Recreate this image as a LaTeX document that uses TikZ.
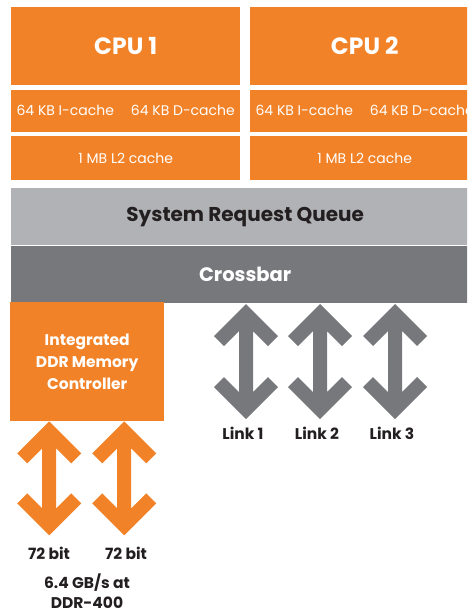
\documentclass[tikz,border=0pt]{standalone}
\usepackage{fontspec}
\setmainfont{Poppins}
\usetikzlibrary{positioning}

\definecolor{coreorange}{HTML}{F28227}
\definecolor{queuegray}{HTML}{B1B2B5}
\definecolor{bargray}{HTML}{77787B}
\definecolor{inkdark}{HTML}{231F20}

% two-headed block arrow: #1 colour, #2 top tip, #3 length
\newcommand{\duplexarrow}[3]{%
  \fill[#1] (#2) -- ++(32,32) -- ++(-10,10) -- ++(-15,-15) -- ++(0,#3-54)
    -- ++(15,-15) -- ++(10,10) -- ++(-32,32) -- ++(-32,-32) -- ++(10,-10)
    -- ++(15,15) -- ++(0,54-#3) -- ++(-15,15) -- ++(-10,-10) -- cycle;}

\begin{document}
\begin{tikzpicture}[x=1pt, y=-1pt,
    block/.style={fill=coreorange, text=white, inner sep=0pt, anchor=north west,
      minimum width=229pt},
    cpubox/.style={block, minimum height=78pt, font=\fontsize{23.5}{28}\selectfont\bfseries},
    cachebox/.style={block, minimum height=42pt, font=\fontsize{14}{16}\selectfont},
    l2box/.style={block, minimum height=44pt, font=\fontsize{14}{16}\selectfont},
    bar/.style={inner sep=0pt, anchor=north west, minimum width=468pt,
      minimum height=57pt, font=\fontsize{20}{24}\selectfont\bfseries},
    tag/.style={text=inkdark, inner sep=0pt, align=center,
      font=\fontsize{15.5}{20}\selectfont\bfseries}]
  \useasboundingbox (0,0) rectangle (467,613);
  \clip (0,0) rectangle (467,613);

  % CPU cores with their caches
  \node[cpubox] (cpu1) at (11,7) {CPU 1};
  \node[cpubox] (cpu2) at (250,7) {CPU 2};
  \node[cachebox, below=4pt of cpu1.south west, anchor=north west] (l1a) {64 KB I-cache\hspace{17pt}64 KB D-cache};
  \node[cachebox, below=4pt of cpu2.south west, anchor=north west] (l1b) {64 KB I-cache\hspace{17pt}64 KB D-cache};
  \node[l2box, below=4pt of l1a.south west, anchor=north west] (l2a) {1 MB L2 cache};
  \node[l2box, below=4pt of l1b.south west, anchor=north west] (l2b) {1 MB L2 cache};

  % Queue and crossbar
  \node[bar, fill=queuegray, text=inkdark] (srq) at (11,188) {System Request Queue};
  \node[bar, fill=bargray, text=white, font=\fontsize{19.5}{24}\selectfont\bfseries,
    below=0pt of srq.south west, anchor=north west] (xbar) {Crossbar};

  % Memory controller
  \node[fill=coreorange, text=white, inner sep=0pt, anchor=north west,
    minimum width=154pt, minimum height=119pt, align=center,
    font=\fontsize{15.5}{22}\selectfont\bfseries] (mc) at (10,302)
    {Integrated\\DDR Memory\\Controller};

  % DDR channels
  \coordinate (ddr1) at ([xshift=-38pt]mc.south);
  \coordinate (ddr2) at ([xshift=37pt]mc.south);
  \duplexarrow{coreorange}{ddr1}{114}
  \duplexarrow{coreorange}{ddr2}{114}
  \node[tag] (bit1) at (49,553) {72 bit};
  \node[tag] (bit2) at (126,553) {72 bit};
  \node[tag] (rate) at (87,591) {6.4 GB/s at\\DDR-400};

  % HyperTransport links
  \foreach \n/\x in {1/246, 2/320, 3/395} {
    \coordinate (link\n) at (\x,304);
    \duplexarrow{bargray}{link\n}{115}
    \node[tag] (linklbl\n) at (\x-3,433) {Link \n};
  }
\end{tikzpicture}
\end{document}
